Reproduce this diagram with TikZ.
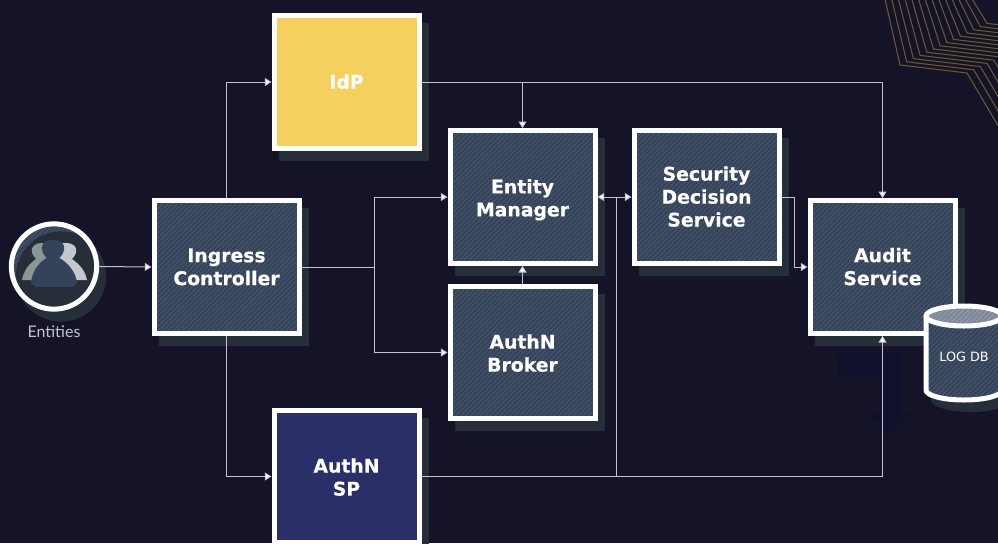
\documentclass[tikz,border=0pt]{standalone}
\usepackage{fontspec}
\setmainfont{DejaVu Sans}[BoldFeatures={FakeBold=0.5}]
\newfontfamily\labelfont{Lato}
\usetikzlibrary{arrows.meta,shadows,patterns.meta,calc}
\definecolor{bgc}{HTML}{141328}
\definecolor{shadowc}{HTML}{252E39}
\definecolor{basec}{HTML}{344359}
\definecolor{hatchc}{HTML}{465469}
\definecolor{linec}{HTML}{C4C4CC}
\definecolor{idpc}{HTML}{F5D05F}
\definecolor{spc}{HTML}{2B2F68}
\definecolor{goldc}{HTML}{6B5830}
\definecolor{navyc}{HTML}{0E102C}
\definecolor{personl}{HTML}{8A9796}
\definecolor{personr}{HTML}{C3C8CC}
\definecolor{lidc}{HTML}{7E8698}
\definecolor{lidh}{HTML}{939AA9}
\newcommand{\tl}[1][13.9pt]{\rule[-2pt]{0pt}{#1}}
\tikzset{
  hatched/.style={preaction={fill=basec},preaction={pattern={Lines[angle=45,distance=2.6pt,line width=.9pt]},pattern color=hatchc}},
  boxshadow/.style={general shadow={fill=shadowc,draw=shadowc,shadow xshift=5.25pt,shadow yshift=-7.5pt}},
  boxbase/.style={draw=white,line width=3.75pt,minimum width=108.75pt,minimum height=99.5pt,align=center,
    text=white,font=\fontsize{14.1pt}{17.2pt}\selectfont\bfseries,inner sep=0pt,boxshadow},
  service/.style={boxbase,hatched},
  idpbox/.style={boxbase,fill=idpc},
  spbox/.style={boxbase,fill=spc},
  link/.style={draw=linec,line width=.75pt},
  tip/.style={-{Triangle[width=6pt,length=5pt,fill=white]}},
  ends/.style={{Triangle[width=6pt,length=5pt,fill=white]}-{Triangle[width=6pt,length=5pt,fill=white]}},
  goldline/.style={draw=goldc,line width=.8pt},
}
\begin{document}
\begin{tikzpicture}[x=.75pt,y=-.75pt]
\useasboundingbox (0,0) rectangle (998,543);
\clip (0,0) rectangle (998,543);
\fill[bgc] (0,0) rectangle (998,543);
% top-right chevrons
\foreach \i in {0,...,13}{
  \draw[goldline] ({885+6.7*\i},-1) -- ({900+6.7*\i},{65-3.2*\i}) -- ({967+6.7*\i},{73-3.2*\i}) -- ({1000+6.7*\i},{129-3.2*\i});
}
% faint arrow
\fill[navyc] (838,353) -- (901,353) -- (901,414) -- (911,414) -- (890,435) -- (868,414) -- (880,414) -- (880,377) -- (838,377) -- cycle;
% nodes
\node[service] (ingress) at (226.5,267) {\tl Ingress\\Controller\tl};
\node[idpbox] (idp) at (346.5,82) {\tl IdP\tl};
\node[spbox] (sp) at (346.5,476.5) {\tl[15.4pt]AuthN\\SP\tl};
\node[service] (entity) at (522.5,197) {\tl[16.9pt]Entity\\Manager\tl};
\node[service] (broker) at (522.5,352.5) {\tl[15.4pt]AuthN\\Broker\tl};
\node[service] (security) at (706.5,197) {\tl Security\\Decision\\Service\tl};
\node[service] (audit) at (882.5,267) {\tl Audit\\Service\tl};
% entities
\node[circle,draw=white,line width=3.75pt,minimum size=64pt,inner sep=0pt,hatched,boxshadow] (person) at (54,266.5) {};
\fill[personl] (22,280) .. controls (24,270) and (29,264) .. (36,259) .. controls (28,251) and (32,243) .. (42,243) -- (50,243) -- (50,280) -- cycle;
\fill[personr] (87,280) .. controls (85,270) and (79,264) .. (72,259) .. controls (80,251) and (76,243) .. (66,243) -- (58,243) -- (58,280) -- cycle;
\fill[basec] (31,283) .. controls (32,272) and (38,263) .. (46.5,258) .. controls (39,250) and (40,240) .. (53,240) .. controls (66,240) and (67,250) .. (59.5,258) .. controls (68,263) and (76,272) .. (77,283) -- (72,287) -- (36,287) -- cycle;
\node[font=\fontsize{12pt}{14pt}\selectfont\labelfont,text=linec,inner sep=0pt] (entlabel) at (54,332) {Entities};
% cylinder
\fill[shadowc] (931,325) -- (931,400) arc[start angle=180,end angle=360,x radius=30pt,y radius=9pt] -- (1012,325) -- cycle;
\path[hatched] (926,316) -- (926,390) arc[start angle=180,end angle=360,x radius=28.5pt,y radius=7.5pt] -- (1002,316) arc[start angle=0,end angle=180,x radius=28.5pt,y radius=7.5pt] -- cycle;
\path[preaction={fill=lidc},preaction={pattern={Lines[angle=45,distance=2.6pt,line width=.9pt]},pattern color=lidh}] (964,316) ellipse[x radius=28.5pt,y radius=7.5pt];
\draw[white,line width=3.75pt] (926,316) -- (926,390) arc[start angle=180,end angle=360,x radius=28.5pt,y radius=7.5pt] -- (1002,316);
\draw[white,line width=3.75pt] (964,316) ellipse[x radius=28.5pt,y radius=7.5pt];
\node[text=white,font=\fontsize{9.6pt}{12pt}\selectfont,inner sep=0pt] (logdb) at (964,357) {LOG DB};
% connectors
\draw[link,tip] (person.east) -- (ingress.west);
\draw[link,tip] (ingress.north) |- (idp.west);
\draw[link,tip] (ingress.south) |- (sp.west);
\coordinate (fork) at (374.5,267);
\draw[link] (ingress.east) -- (fork);
\draw[link,tip] (fork) |- (entity.west);
\draw[link,tip] (fork) |- (broker.west);
\draw[link,tip] (idp.east) -| (audit.north);
\coordinate (idpfork) at (522.5,82);
\draw[link,tip] (idpfork) -- (entity.north);
\draw[link,tip] (sp.east) -| (audit.south);
\draw[link,tip] (broker.north) -- (entity.south);
\draw[link,ends] (entity.east) -- (security.west);
\coordinate (spfork) at (616.5,476.5);
\coordinate (spjoin) at (616.5,197);
\draw[link] (spfork) -- (spjoin);
\coordinate (secout) at (794.5,197);
\draw[link,tip] (security.east) -- (secout) |- (audit.west);
\end{tikzpicture}
\end{document}
